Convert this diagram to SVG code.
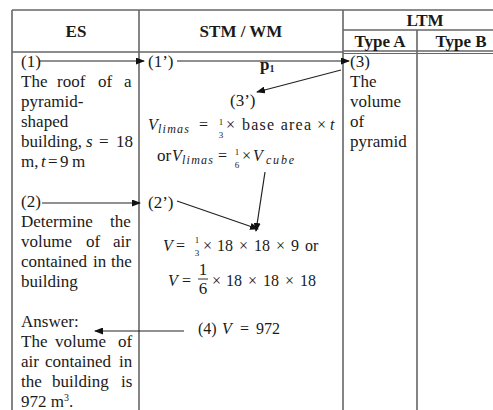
<svg xmlns="http://www.w3.org/2000/svg" width="493" height="410" viewBox="0 0 493 410">
<style>
text{font-family:"Liberation Serif","Times New Roman",serif;fill:#1a1a1a;font-size:17px}
.h{font-weight:bold;text-anchor:middle}
.m{font-size:16px}
.i{font-style:italic}
.s{font-size:12px;font-style:italic}
.f{font-size:9px;text-anchor:middle}
.grid line{stroke:#666;stroke-width:1.6}
.conn path{fill:none;stroke:#222;stroke-width:1.2;marker-end:url(#ah)}
</style>
<defs>
<marker id="ah" markerWidth="9" markerHeight="7" refX="8" refY="3.5" orient="auto" markerUnits="userSpaceOnUse">
<path d="M0,0 L9,3.5 L0,7 z" fill="#111"/>
</marker>
</defs>
<rect width="493" height="410" fill="#fff"/>
<g class="grid">
<line x1="12" y1="10" x2="493" y2="10"/>
<line x1="12" y1="10" x2="12" y2="410"/>
<line x1="139" y1="10" x2="139" y2="410"/>
<line x1="343" y1="10" x2="343" y2="410"/>
<line x1="417" y1="30" x2="417" y2="410"/>
<line x1="343" y1="30" x2="493" y2="30"/>
<line x1="12" y1="52" x2="343" y2="52"/>
<line x1="343" y1="51" x2="493" y2="51"/>
<line x1="343" y1="53.5" x2="493" y2="53.5" style="stroke-width:1"/>
</g>
<g id="header">
<text class="h" x="76" y="37">ES</text>
<text class="h" x="241" y="37">STM / WM</text>
<text class="h" x="425" y="26">LTM</text>
<text class="h" x="380" y="47">Type A</text>
<text class="h" x="461" y="47">Type B</text>
</g>
<g id="es1">
<text x="21" y="67">(1)</text>
<text y="87"><tspan x="21">The</tspan><tspan x="57">roof</tspan><tspan x="98">of</tspan><tspan x="124">a</tspan></text>
<text x="21" y="107">pyramid-</text>
<text x="21" y="127">shaped</text>
<text y="147"><tspan x="21">building,</tspan><tspan x="86" class="i">s</tspan><tspan x="99">=</tspan><tspan x="116">18</tspan></text>
<text y="167"><tspan x="21">m,</tspan><tspan x="41" class="i">t</tspan><tspan x="48">=</tspan><tspan x="60">9</tspan><tspan x="72">m</tspan></text>
</g>
<g id="es2">
<text x="21" y="207">(2)</text>
<text y="227"><tspan x="21">Determine</tspan><tspan x="110">the</tspan></text>
<text y="247"><tspan x="21">volume</tspan><tspan x="86">of</tspan><tspan x="113">air</tspan></text>
<text y="267"><tspan x="21">contained</tspan><tspan x="93">in</tspan><tspan x="111">the</tspan></text>
<text x="21" y="287">building</text>
</g>
<g id="es-answer">
<text x="21" y="327">Answer:</text>
<text y="347"><tspan x="21">The</tspan><tspan x="55">volume</tspan><tspan x="118">of</tspan></text>
<text y="367"><tspan x="21">air</tspan><tspan x="45">contained</tspan><tspan x="119">in</tspan></text>
<text y="387"><tspan x="21">the</tspan><tspan x="52">building</tspan><tspan x="121">is</tspan></text>
<text x="21" y="407">972 m<tspan font-size="10" dy="-6">3</tspan><tspan dy="6">.</tspan></text>
</g>
<g id="stm1">
<text x="148" y="67">(1’)</text>
</g>
<g id="p1-label">
<text x="260" y="70" font-weight="bold" font-size="14">p<tspan font-size="10" dy="2">1</tspan></text>
</g>
<g id="stm3">
<text x="230" y="106">(3’)</text>
<text class="m i" x="148" y="130">V</text>
<text class="s" x="158" y="133" textLength="31" lengthAdjust="spacing">limas</text>
<text class="m" x="199" y="130">=</text>
<text class="f" x="221" y="125">1</text>
<text class="f" x="221" y="138">3</text>
<text class="m" x="226" y="130">×</text>
<text class="m" x="242" y="130" textLength="69" lengthAdjust="spacing">base area</text>
<text class="m" x="317" y="130">×</text>
<text class="m i" x="330" y="130">t</text>
<text font-size="11" x="157" y="161">or</text>
<text class="m i" x="172" y="161">V</text>
<text class="s" x="182" y="164" textLength="31" lengthAdjust="spacing">limas</text>
<text class="m" x="218" y="161">=</text>
<text class="f" x="237" y="155">1</text>
<text class="f" x="237" y="168">6</text>
<text class="m" x="242" y="161">×</text>
<text class="m i" x="253" y="161">V</text>
<text class="s" x="266" y="164" textLength="28" lengthAdjust="spacing">cube</text>
</g>
<g id="stm2">
<text x="148" y="208">(2’)</text>
<text class="m i" x="163" y="251">V</text>
<text class="m" x="176" y="251">=</text>
<text class="f" x="197" y="243">1</text>
<text class="f" x="197" y="256">3</text>
<text class="m" x="203" y="251">×</text>
<text class="m" x="217" y="251">18</text>
<text class="m" x="239" y="251">×</text>
<text class="m" x="254" y="251">18</text>
<text class="m" x="276" y="251">×</text>
<text class="m" x="291" y="251">9</text>
<text class="m" x="305" y="251">or</text>
<text class="m i" x="168" y="286">V</text>
<text class="m" x="182" y="286">=</text>
<text font-size="13" text-anchor="middle" x="203" y="275">1</text>
<line x1="198" y1="279" x2="208" y2="279" stroke="#1a1a1a" stroke-width="0.9"/>
<text font-size="13" text-anchor="middle" x="203" y="294">6</text>
<text class="m" x="212" y="286">×</text>
<text class="m" x="226" y="286">18</text>
<text class="m" x="248" y="286">×</text>
<text class="m" x="263" y="286">18</text>
<text class="m" x="285" y="286">×</text>
<text class="m" x="300" y="286">18</text>
</g>
<g id="stm4">
<text class="m" x="198" y="334">(4)</text>
<text class="m i" x="222" y="334">V</text>
<text class="m" x="240" y="334">=</text>
<text class="m" x="256" y="334">972</text>
</g>
<g id="ltm3">
<text x="350" y="67">(3)</text>
<text x="350" y="87">The</text>
<text x="350" y="107">volume</text>
<text x="350" y="127">of</text>
<text x="350" y="147">pyramid</text>
</g>
<g class="conn" id="connectors">
<path d="M40,61 L144,61"/>
<path d="M177,61 L349,61"/>
<path d="M341,70 L257,92"/>
<path d="M265,172 L256,231"/>
<path d="M42,203 L140,203"/>
<path d="M177,201 L258,229"/>
<path d="M184,331 L95,331"/>
</g>
</svg>
